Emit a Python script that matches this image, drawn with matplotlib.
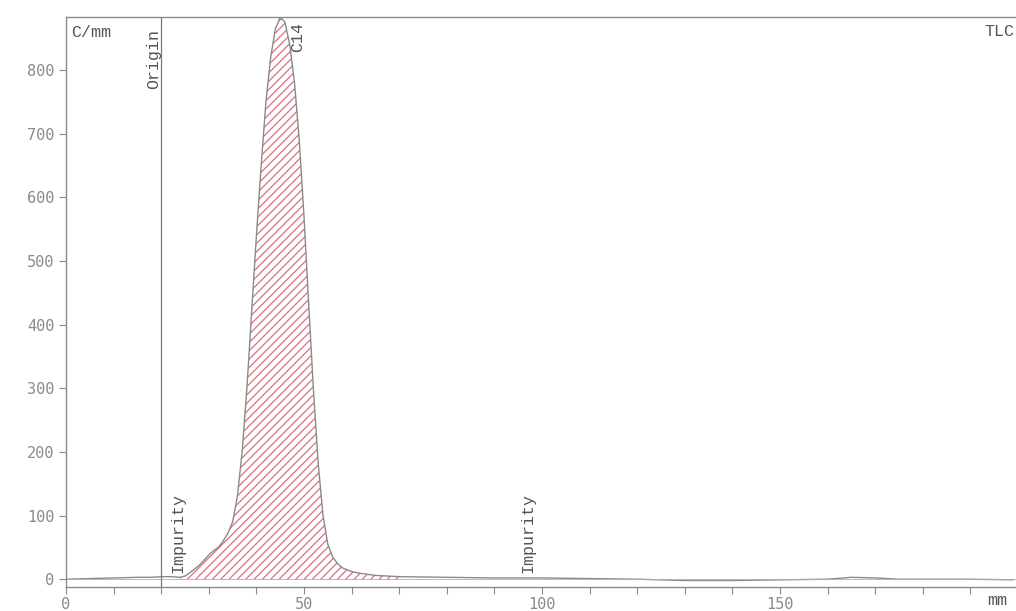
import matplotlib
matplotlib.use("Agg")
import matplotlib.pyplot as plt
import numpy as np

# Radio-TLC scan data (position in mm, counts per mm)
pos_mm = [0, 5, 10, 15, 18, 20, 22, 24, 25, 26, 28, 30, 31, 32, 33, 34, 35, 36, 37,
          38, 39, 40, 41, 42, 43, 44, 45, 46, 47, 48, 49, 50, 51, 52, 53, 54, 55,
          56, 57, 58, 60, 62, 65, 70, 80, 90, 100, 110, 120, 130, 140, 150, 160,
          165, 170, 175, 190, 199]
counts = [0, 1, 2, 3, 3, 4, 4, 3, 5, 10, 22, 38, 45, 50, 60, 72, 90, 130, 200,
          300, 420, 540, 650, 750, 820, 865, 883, 875, 840, 780, 690, 570, 430, 295, 180, 100, 55,
          35, 25, 18, 12, 9, 6, 4, 3, 2, 2, 1, 0, -2, -2, -1, 0,
          3, 2, 0, 0, -1]

origin_mm = 20
peak_region = (24, 75)
labels = [("Origin", 18.4, 865, "top"), ("C14", 48.6, 875, "top"),
          ("Impurity", 23.6, 10, "bottom"), ("Impurity", 97.0, 10, "bottom")]
x_major = [0, 50, 100, 150]
y_major = [0, 100, 200, 300, 400, 500, 600, 700, 800]

fig = plt.figure(figsize=(10.16, 6.11), dpi=100)
ax = fig.add_axes([0.065, 0.039, 0.935, 0.933])

x = np.array(pos_mm, dtype=float)
y = np.array(counts, dtype=float)

# hatched peak region
mask = (x >= peak_region[0]) & (x <= peak_region[1])
plt.rcParams['hatch.color'] = '#d9707c'
plt.rcParams['hatch.linewidth'] = 0.9
ax.fill_between(x[mask], 0, y[mask], facecolor='white', edgecolor='#d9707c',
                hatch='////', linewidth=0)
ax.plot(x, y, color='#8a8a8a', linewidth=1.0)
ax.axhline(0, color='#b0b0b0', linewidth=0.6, xmin=0, xmax=1)

ax.axvline(origin_mm, color='#7a7a7a', linewidth=0.9)

mono = 'Liberation Mono'
for txt, xx, yy, va in labels:
    ax.text(xx, yy, txt, rotation=90, ha='center', va=va, fontsize=12,
            family=mono, color='#555555')

ax.text(1.0, 870, "C/mm", ha='left', va='top', fontsize=12, family=mono, color='#555555')
ax.text(193, 872, "TLC", ha='left', va='top', fontsize=12, family=mono, color='#555555',
        clip_on=False)
fig.text(0.972, 0.005, "mm", ha='left', va='bottom', fontsize=12, family=mono, color='#555555')

ax.set_xlim(0, 199.6)
ax.set_ylim(-12.5, 883)
ax.set_xticks(x_major)
ax.set_xticks(np.arange(0, 200, 10), minor=True)
ax.set_yticks(y_major)
ax.tick_params(axis='both', which='both', colors='#8a8a8a', labelcolor='#8a8a8a',
               labelsize=11, length=5, width=0.8, direction='out')
ax.tick_params(axis='x', which='both', pad=2)
for lab in ax.get_xticklabels() + ax.get_yticklabels():
    lab.set_family('DejaVu Sans Mono')
for s in ['left', 'bottom', 'top']:
    ax.spines[s].set_color('#8a8a8a')
    ax.spines[s].set_linewidth(1.0)
ax.spines['right'].set_visible(False)

fig.savefig("out.png", dpi=100)
